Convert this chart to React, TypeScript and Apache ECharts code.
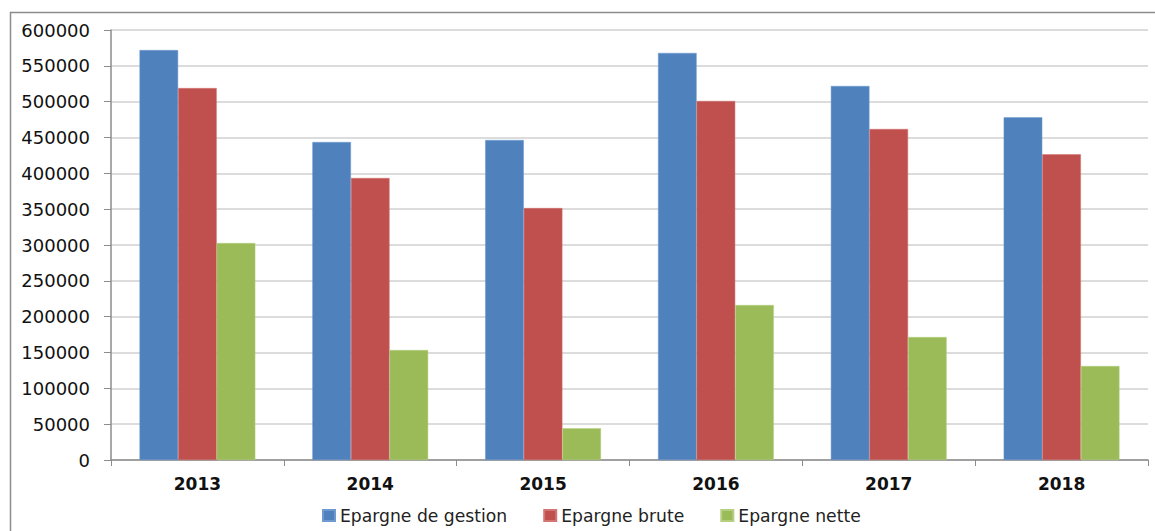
import React, { useEffect, useRef } from "react";
import * as echarts from "echarts";

const categories = ["2013", "2014", "2015", "2016", "2017", "2018"];
const gestion = [572000, 443700, 446500, 568000, 521900, 478100];
const brute = [519000, 393500, 351600, 501000, 461900, 426500];
const nette = [302800, 153500, 44300, 216300, 171600, 131200];

export default function App() {
  const ref = useRef<HTMLDivElement>(null);
  useEffect(() => {
    const chart = echarts.init(ref.current!, undefined, { renderer: "svg" });
    const font = "DejaVu Sans";
    chart.setOption({
      animation: false,
      backgroundColor: "#fff",
      graphic: [
        {
          type: "rect",
          shape: { x: 10.5, y: 12.5, width: 1160, height: 540 },
          style: { fill: "none", stroke: "#8c8c8c", lineWidth: 1.5 },
          silent: true,
        },
      ],
      grid: { left: 111, right: 7, top: 30, bottom: 71, containLabel: false },
      legend: {
        bottom: 2,
        left: 317,
        itemWidth: 12,
        itemHeight: 11,
        itemGap: 36,
        icon: "rect",
        textStyle: { fontFamily: font, fontSize: 17.2, color: "#222" },
        data: ["Epargne de gestion", "Epargne brute", "Epargne nette"],
      },
      xAxis: {
        type: "category",
        data: categories,
        axisLine: { lineStyle: { color: "#8c8c8c", width: 1.5 } },
        axisTick: { show: true, length: 6, lineStyle: { color: "#8c8c8c" } },
        axisLabel: {
          fontFamily: font,
          fontSize: 17,
          fontWeight: "bold",
          color: "#111",
          margin: 15,
        },
      },
      yAxis: {
        type: "value",
        min: 0,
        max: 600000,
        interval: 50000,
        axisLine: { show: true, lineStyle: { color: "#8c8c8c", width: 1.5 } },
        axisTick: { show: true, length: 7, lineStyle: { color: "#8c8c8c" } },
        splitLine: { lineStyle: { color: "#d0d0d0", width: 1.5 } },
        axisLabel: {
          fontFamily: font,
          fontSize: 18,
          color: "#111",
          margin: 21,
          formatter: (v: number) => String(v),
        },
      },
      series: [
        {
          name: "Epargne de gestion",
          type: "bar",
          data: gestion,
          barGap: "0%",
          barCategoryGap: "33%",
          itemStyle: { color: "#4F81BD", borderColor: "#6f9ad0", borderWidth: 0.5 },
        },
        {
          name: "Epargne brute",
          type: "bar",
          data: brute,
          itemStyle: { color: "#C0504D", borderColor: "#d37572", borderWidth: 0.5 },
        },
        {
          name: "Epargne nette",
          type: "bar",
          data: nette,
          itemStyle: { color: "#9BBB59", borderColor: "#b5cf80", borderWidth: 0.5 },
        },
      ],
    });
    return () => chart.dispose();
  }, []);
  return (
    <div
      ref={ref}
      style={{ position: "fixed", left: 0, top: 0, width: 1155, height: 531 }}
    />
  );
}
